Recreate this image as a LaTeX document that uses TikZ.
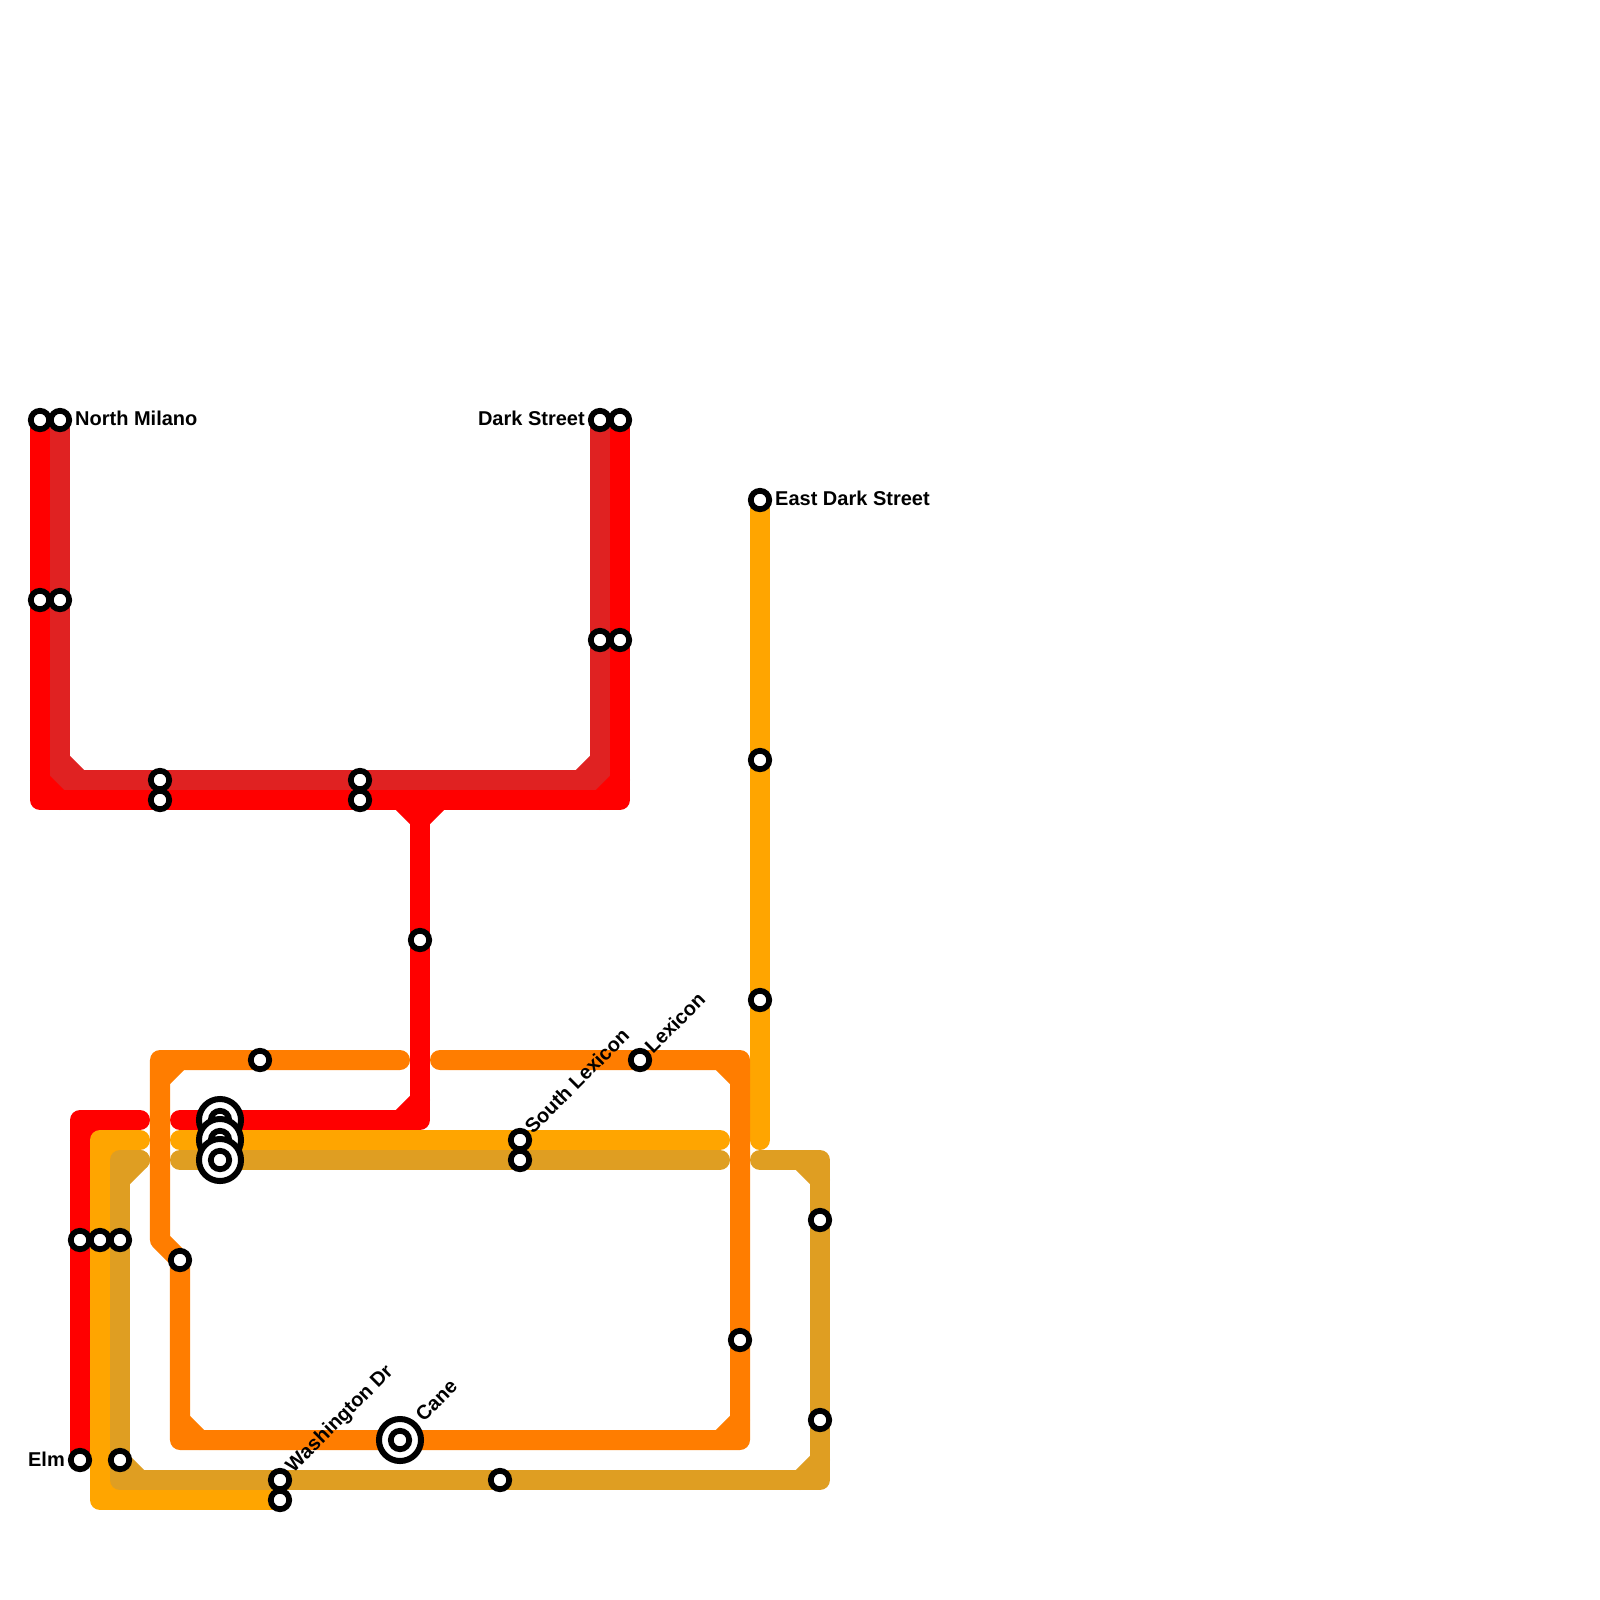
\documentclass[tikz,border=0pt]{standalone}
\usepackage{fontspec}
\setmainfont{Liberation Sans}
\usetikzlibrary{positioning}
\definecolor{lineRed}{HTML}{FF0000}
\definecolor{lineDark}{HTML}{E02222}
\definecolor{lineAmber}{HTML}{FFA500}
\definecolor{lineGold}{HTML}{DF9E22}
\definecolor{lineOrange}{HTML}{FF7D00}
\tikzset{
  metro/.style={line width=14.226pt, line cap=round, line join=round},
  station/.style={circle, draw=black, fill=white, line width=4.1pt, minimum size=13.1pt, inner sep=0pt},
  hub/.style={circle, draw=black, fill=white, line width=4.27pt, minimum size=29.9pt, inner sep=0pt},
  stationlabel/.style={font=\fontsize{14.23}{16}\selectfont\bfseries, inner sep=0pt, yshift=0.9pt},
  turnedlabel/.style={stationlabel, rotate=45, anchor=west, yshift=-0.9pt},
}
\begin{document}
\begin{tikzpicture}[x=0.025cm, y=-0.025cm]
\useasboundingbox (0,0) rectangle (1600,1600);

% corners and line ends
\coordinate (darkA) at (60,420);
\coordinate (darkB) at (60,780);
\coordinate (darkC) at (600,780);
\coordinate (darkD) at (600,420);
\coordinate (redA) at (40,420);
\coordinate (redB) at (40,800);
\coordinate (redC) at (620,800);
\coordinate (redD) at (620,420);
\coordinate (redTee) at (420,800);
\coordinate (redE) at (420,1120);
\coordinate (redF) at (180,1120);
\coordinate (redG) at (140,1120);
\coordinate (redH) at (80,1120);
\coordinate (redI) at (80,1460);
\coordinate (amberA) at (140,1140);
\coordinate (amberB) at (100,1140);
\coordinate (amberC) at (100,1500);
\coordinate (amberD) at (280,1500);
\coordinate (amberE) at (180,1140);
\coordinate (amberF) at (720,1140);
\coordinate (amberG) at (760,500);
\coordinate (amberH) at (760,1140);
\coordinate (goldA) at (140,1160);
\coordinate (goldB) at (120,1160);
\coordinate (goldC) at (120,1480);
\coordinate (goldD) at (820,1480);
\coordinate (goldE) at (820,1160);
\coordinate (goldF) at (760,1160);
\coordinate (goldG) at (180,1160);
\coordinate (goldH) at (720,1160);
\coordinate (orangeA) at (400,1060);
\coordinate (orangeB) at (160,1060);
\coordinate (orangeC) at (160,1240);
\coordinate (orangeD) at (180,1260);
\coordinate (orangeE) at (180,1440);
\coordinate (orangeF) at (740,1440);
\coordinate (orangeG) at (740,1060);
\coordinate (orangeH) at (440,1060);

% lines
\draw[metro, lineDark] (darkA) -- (darkB) -- (darkC) -- (darkD);
\draw[metro, lineDark] (darkB) ++(0,-20) -- ++(20,20);
\draw[metro, lineDark] (darkC) ++(-20,0) -- ++(20,-20);

\draw[metro, lineRed] (redA) -- (redB) -- (redC) -- (redD);
\draw[metro, lineRed] (redB) ++(0,-20) -- ++(20,20);
\draw[metro, lineRed] (redC) ++(-20,0) -- ++(20,-20);
\draw[metro, lineRed] (redTee) -- (redE) -- (redF);
\draw[metro, lineRed] (redTee) ++(-20,0) -- ++(20,20) -- ++(20,-20);
\draw[metro, lineRed] (redE) ++(0,-20) -- ++(-20,20);
\draw[metro, lineRed] (redG) -- (redH) -- (redI);
\draw[metro, lineRed] (redH) ++(0,20) -- ++(20,-20);

\draw[metro, lineAmber] (amberA) -- (amberB) -- (amberC) -- (amberD);
\draw[metro, lineAmber] (amberB) ++(0,20) -- ++(20,-20);
\draw[metro, lineAmber] (amberC) ++(0,-20) -- ++(20,20);
\draw[metro, lineAmber] (amberE) -- (amberF);
\draw[metro, lineAmber] (amberG) -- (amberH);

\draw[metro, lineGold] (goldA) -- (goldB) -- (goldC) -- (goldD) -- (goldE) -- (goldF);
\draw[metro, lineGold] (goldB) ++(0,20) -- ++(20,-20);
\draw[metro, lineGold] (goldC) ++(0,-20) -- ++(20,20);
\draw[metro, lineGold] (goldD) ++(-20,0) -- ++(20,-20);
\draw[metro, lineGold] (goldE) ++(0,20) -- ++(-20,-20);
\draw[metro, lineGold] (goldG) -- (goldH);

\draw[metro, lineOrange] (orangeA) -- (orangeB) -- (orangeC) -- (orangeD) -- (orangeE) -- (orangeF) -- (orangeG) -- (orangeH);
\draw[metro, lineOrange] (orangeB) ++(0,20) -- ++(20,-20);
\draw[metro, lineOrange] (orangeE) ++(0,-20) -- ++(20,20);
\draw[metro, lineOrange] (orangeF) ++(-20,0) -- ++(20,-20);
\draw[metro, lineOrange] (orangeG) ++(0,20) -- ++(-20,-20);

% stations
\node[station] (stMilanoW) at (redA) {};
\node[station] (stMilano) at (darkA) {};
\node[station] (stRedLeft) at (40,600) {};
\node[station] (stDarkLeft) at (60,600) {};
\node[station] (stDarkBottomA) at (160,780) {};
\node[station] (stRedBottomA) at (160,800) {};
\node[station] (stDarkBottomB) at (360,780) {};
\node[station] (stRedBottomB) at (360,800) {};
\node[station] (stBranch) at (420,940) {};
\node[station] (stDarkStreet) at (darkD) {};
\node[station] (stDarkStreetE) at (redD) {};
\node[station] (stDarkRight) at (600,640) {};
\node[station] (stRedRight) at (620,640) {};
\node[station] (stEastDark) at (amberG) {};
\node[station] (stAmberA) at (760,760) {};
\node[station] (stAmberB) at (760,1000) {};
\node[station] (stOrangeTop) at (260,1060) {};
\node[station] (stLexicon) at (640,1060) {};
\node[hub] (hubRed) at (220,1120) {};
\node[station] (stHubRed) at (hubRed) {};
\node[hub] (hubAmber) at (220,1140) {};
\node[station] (stHubAmber) at (hubAmber) {};
\node[hub] (hubGold) at (220,1160) {};
\node[station] (stHubGold) at (hubGold) {};
\node[station] (stSouthLex) at (520,1140) {};
\node[station] (stSouthLexB) at (520,1160) {};
\node[station] (stRedLow) at (80,1240) {};
\node[station] (stAmberLow) at (100,1240) {};
\node[station] (stGoldLow) at (120,1240) {};
\node[station] (stOrangeLow) at (orangeD) {};
\node[station] (stGoldRightA) at (820,1220) {};
\node[station] (stGoldRightB) at (820,1420) {};
\node[station] (stOrangeRight) at (740,1340) {};
\node[station] (stElm) at (redI) {};
\node[station] (stGoldCorner) at (120,1460) {};
\node[station] (stWashington) at (280,1480) {};
\node[station] (stWashingtonB) at (amberD) {};
\node[hub] (hubCane) at (400,1440) {};
\node[station] (stCane) at (hubCane) {};
\node[station] (stGoldBottom) at (500,1480) {};

% labels
\node[stationlabel, right=2pt of stMilano] (lblMilano) {North Milano};
\node[stationlabel, left=2pt of stDarkStreet] (lblDark) {Dark Street};
\node[stationlabel, right=2pt of stEastDark] (lblEastDark) {East Dark Street};
\node[stationlabel, left=2pt of stElm] (lblElm) {Elm};
\node[turnedlabel] (lblLexicon) at ([shift={(7,-10)}]stLexicon) {Lexicon};
\node[turnedlabel] (lblSouthLex) at ([shift={(7,-10)}]stSouthLex) {South Lexicon};
\node[turnedlabel] (lblWashington) at ([shift={(9,-10)}]stWashington) {Washington Dr};
\node[turnedlabel] (lblCane) at ([shift={(18,-22)}]stCane) {Cane};
\end{tikzpicture}
\end{document}
